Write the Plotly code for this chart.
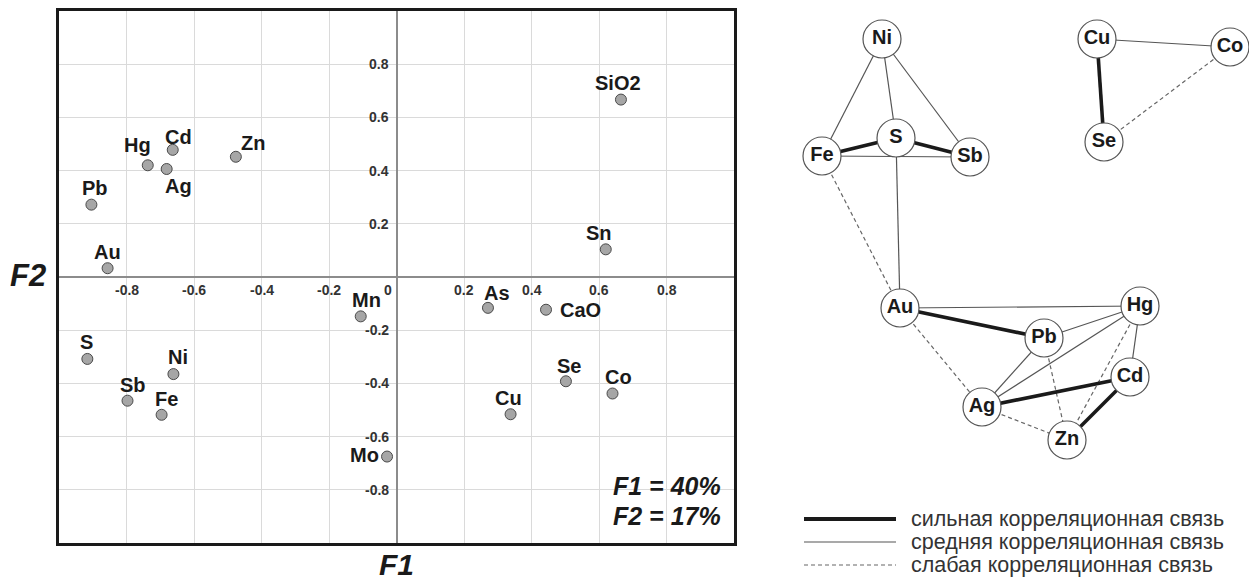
import plotly.graph_objects as go

# ---------------- data: factor loadings ----------------
elements = ["Cd", "Hg", "Ag", "Zn", "Pb", "Au", "SiO2", "Sn", "Mn", "S",
            "Ni", "Sb", "Fe", "Mo", "As", "CaO", "Se", "Co", "Cu"]
f1 = [-0.663, -0.737, -0.681, -0.476, -0.904, -0.856, 0.665, 0.620, -0.106, -0.916,
      -0.661, -0.797, -0.696, -0.028, 0.271, 0.443, 0.502, 0.640, 0.338]
f2 = [0.478, 0.420, 0.406, 0.452, 0.272, 0.033, 0.667, 0.104, -0.148, -0.308,
      -0.365, -0.465, -0.518, -0.675, -0.116, -0.123, -0.392, -0.438, -0.516]

x_ticks = [-0.8, -0.6, -0.4, -0.2, 0, 0.2, 0.4, 0.6, 0.8]
x_tick_labels = ["-0.8", "-0.6", "-0.4", "-0.2", "0", "0.2", "0.4", "0.6", "0.8"]
y_ticks = [0.8, 0.6, 0.4, 0.2, -0.2, -0.4, -0.6, -0.8]
y_tick_labels = ["0.8", "0.6", "0.4", "0.2", "-0.2", "-0.4", "-0.6", "-0.8"]

variance_text = ["F1 = 40%", "F2 = 17%"]

# ---------------- data: correlation graph ----------------
nodes = ["Ni", "Cu", "Co", "S", "Fe", "Sb", "Se", "Au", "Hg", "Pb", "Cd", "Ag", "Zn"]
node_x = [882, 1097, 1230, 896, 822, 970, 1104, 900, 1140, 1044, 1130, 982, 1067]
node_y = [39, 39, 47, 138, 156, 157, 142, 308, 306, 338, 377, 407, 440]

edges = [
    ("Ni", "Fe", "medium"), ("Ni", "S", "medium"), ("Ni", "Sb", "medium"),
    ("Fe", "S", "strong"), ("S", "Sb", "strong"), ("Fe", "Sb", "medium"),
    ("S", "Au", "medium"), ("Fe", "Au", "weak"),
    ("Cu", "Co", "medium"), ("Cu", "Se", "strong"), ("Se", "Co", "weak"),
    ("Au", "Hg", "medium"), ("Au", "Pb", "strong"), ("Au", "Ag", "weak"),
    ("Pb", "Hg", "medium"), ("Pb", "Ag", "medium"), ("Pb", "Zn", "weak"),
    ("Ag", "Hg", "medium"), ("Hg", "Cd", "medium"), ("Hg", "Zn", "weak"),
    ("Ag", "Cd", "strong"), ("Cd", "Zn", "strong"), ("Ag", "Zn", "weak"),
]

legend_labels = {
    "strong": "сильная корреляционная связь",
    "medium": "средняя корреляционная связь",
    "weak": "слабая корреляционная связь",
}

# ---------------- styles ----------------
FONT = "Liberation Sans, Arial, sans-serif"
W, H = 1249, 580
# label offsets (px) relative to points: (dx, dy_screen, xanchor)
label_offsets = {
    "Cd": (6, -13, "center"), "Hg": (-10, -20, "center"), "Ag": (12, 17, "center"),
    "Zn": (17, -14, "center"), "Pb": (4, -17, "center"), "Au": (0, -16, "center"),
    "SiO2": (-3, -17, "center"), "Sn": (-7, -16, "center"), "Mn": (6, -16, "center"),
    "S": (-1, -17, "center"), "Ni": (5, -17, "center"), "Sb": (5, -16, "center"),
    "Fe": (5, -16, "center"), "Mo": (-6, -2, "right"), "As": (9, -15, "center"),
    "CaO": (12, 0, "left"), "Se": (3, -15, "center"), "Co": (6, -17, "center"),
    "Cu": (-2, -16, "center"),
}
edge_style = {
    "strong": dict(color="#1a1a1a", width=3.6),
    "medium": dict(color="#555555", width=1.2),
    "weak": dict(color="#666666", width=1.2, dash="4px,3px"),
}

fig = go.Figure()

# ---------- left: scatter ----------
fig.add_trace(go.Scatter(
    x=f1, y=f2, mode="markers", xaxis="x", yaxis="y",
    marker=dict(size=11, color="#a6a6a6", line=dict(color="#4a4a4a", width=1)),
    hoverinfo="text", text=elements, showlegend=False,
))

annotations = []
for name, xv, yv in zip(elements, f1, f2):
    dx, dy, anc = label_offsets[name]
    annotations.append(dict(
        x=xv, y=yv, xref="x", yref="y", text=name, showarrow=False,
        xanchor=anc, yanchor="middle", xshift=dx, yshift=-dy,
        font=dict(family=FONT, size=20, color="#1a1a1a", weight="bold"),
    ))

for v, t in zip(x_ticks, x_tick_labels):
    annotations.append(dict(
        x=v, y=0, xref="x", yref="y", text=t, showarrow=False,
        xanchor="center", yanchor="top", yshift=-3, xshift=(-9 if v == 0 else 0),
        font=dict(family=FONT, size=14, color="#333333", weight="bold"),
    ))
for v, t in zip(y_ticks, y_tick_labels):
    annotations.append(dict(
        x=0, y=v, xref="x", yref="y", text=t, showarrow=False,
        xanchor="right", yanchor="middle", xshift=-6,
        font=dict(family=FONT, size=14, color="#333333", weight="bold"),
    ))

# axis titles
annotations.append(dict(
    x=28 / W, y=1 - 275 / H, xref="paper", yref="paper", text="F2", showarrow=False,
    xanchor="center", yanchor="middle",
    font=dict(family=FONT, size=31, color="#1a1a1a", weight="bold", style="italic"),
))
annotations.append(dict(
    x=396 / W, y=1 - 564 / H, xref="paper", yref="paper", text="F1", showarrow=False,
    xanchor="center", yanchor="middle",
    font=dict(family=FONT, size=30, color="#1a1a1a", weight="bold", style="italic"),
))
for i, t in enumerate(variance_text):
    annotations.append(dict(
        x=723 / W, y=1 - (486 + 30 * i) / H, xref="paper", yref="paper", text=t,
        showarrow=False, xanchor="right", yanchor="middle",
        font=dict(family=FONT, size=25, color="#1a1a1a", weight="bold", style="italic"),
    ))

# ---------- right: correlation graph ----------
pos = {n: (x, y) for n, x, y in zip(nodes, node_x, node_y)}
for strength in ["weak", "medium", "strong"]:
    xs, ys = [], []
    for a, b, s in edges:
        if s != strength:
            continue
        xs += [pos[a][0], pos[b][0], None]
        ys += [pos[a][1], pos[b][1], None]
    fig.add_trace(go.Scatter(
        x=xs, y=ys, mode="lines", xaxis="x2", yaxis="y2",
        line=edge_style[strength], hoverinfo="skip", showlegend=False,
    ))

fig.add_trace(go.Scatter(
    x=node_x, y=node_y, mode="markers+text", xaxis="x2", yaxis="y2",
    text=nodes, textposition="middle center",
    textfont=dict(family=FONT, size=20, color="#1a1a1a", weight="bold"),
    marker=dict(size=38, color="white", line=dict(color="#555555", width=1.2)),
    cliponaxis=False, hoverinfo="text", showlegend=False,
))

# legend (manual)
shapes = []
legend_rows = [("strong", 519), ("medium", 542), ("weak", 565)]
for s, ly in legend_rows:
    st = edge_style[s]
    shapes.append(dict(
        type="line", xref="x2", yref="y2", x0=804, x1=896, y0=ly, y1=ly,
        line=dict(color=st["color"], width=st["width"] + (0.4 if s == "strong" else 0),
                  dash=st.get("dash", "solid")),
    ))
    annotations.append(dict(
        x=909, y=ly, xref="x2", yref="y2", text=legend_labels[s], showarrow=False,
        xanchor="left", yanchor="middle",
        font=dict(family=FONT, size=21.5, color="#333333"),
    ))

fig.update_layout(
    width=W, height=H,
    margin=dict(l=0, r=0, t=0, b=0),
    paper_bgcolor="white", plot_bgcolor="white",
    xaxis=dict(
        domain=[59 / W, 734 / W], range=[-1, 1], dtick=0.2, tick0=0,
        showgrid=True, gridcolor="#dadada", gridwidth=1,
        zeroline=True, zerolinecolor="#8c8c8c", zerolinewidth=2,
        showticklabels=False, ticks="",
        showline=True, mirror=True, linecolor="#1a1a1a", linewidth=2.5,
        fixedrange=True,
    ),
    yaxis=dict(
        domain=[1 - 543 / H, 1 - 11 / H], range=[-1, 1], dtick=0.2, tick0=0,
        showgrid=True, gridcolor="#dadada", gridwidth=1,
        zeroline=True, zerolinecolor="#8c8c8c", zerolinewidth=2,
        showticklabels=False, ticks="",
        showline=True, mirror=True, linecolor="#1a1a1a", linewidth=2.5,
        fixedrange=True,
    ),
    xaxis2=dict(domain=[760 / W, 1], range=[760, W], visible=False, fixedrange=True),
    yaxis2=dict(domain=[0, 1], range=[H, 0], visible=False, fixedrange=True,
                anchor="x2"),
    annotations=annotations,
    shapes=shapes,
    showlegend=False,
)

fig.write_html("out.html")
